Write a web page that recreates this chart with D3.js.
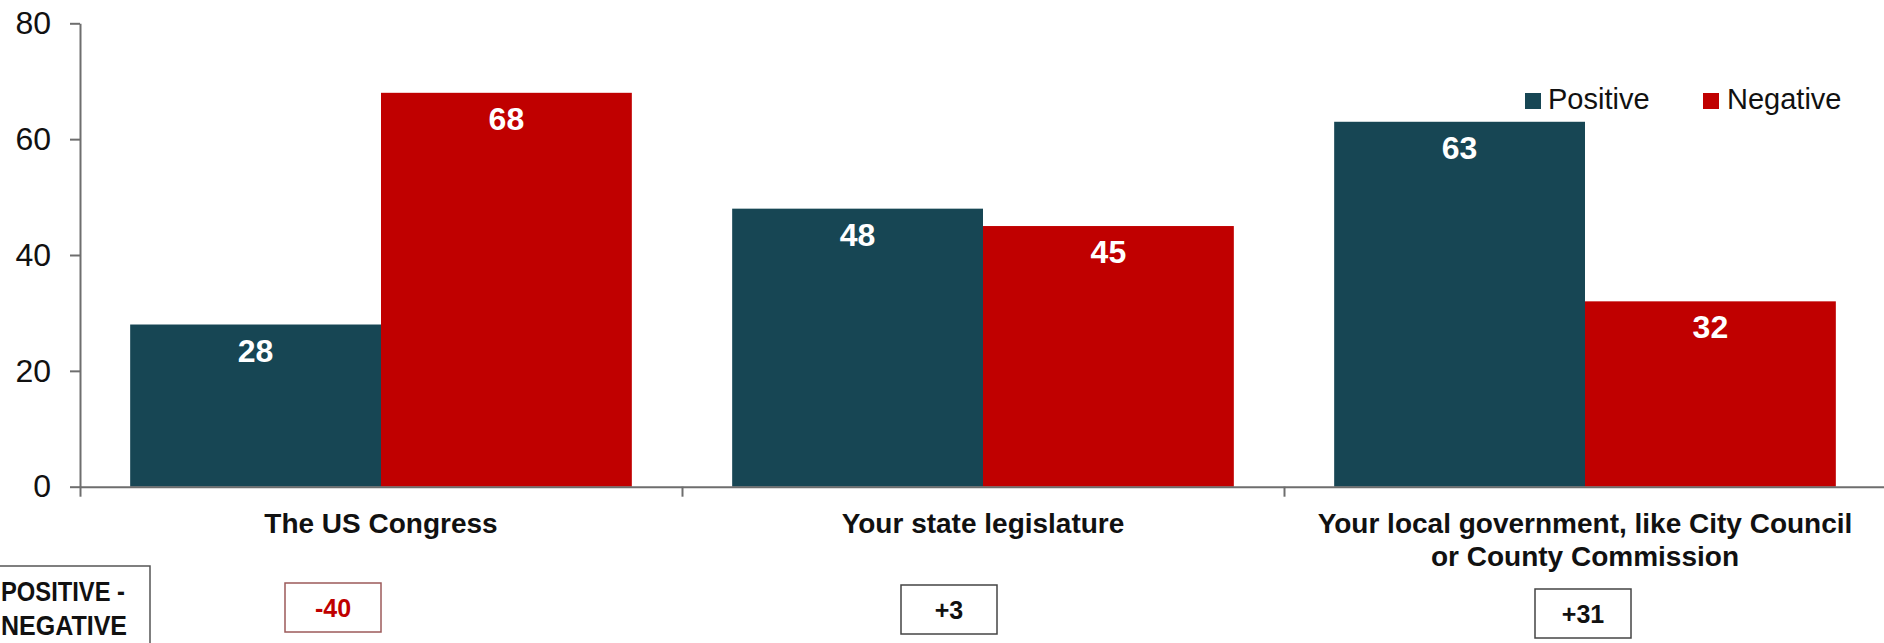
<!DOCTYPE html>
<html>
<head>
<meta charset="utf-8">
<script src="https://cdn.jsdelivr.net/npm/d3@7"></script>
<style>
  html, body { margin: 0; padding: 0; background: #fff; }
  svg { display: block; font-family: "Liberation Sans", Arial, sans-serif; }
</style>
</head>
<body>
<svg id="chart" width="1884" height="643"></svg>
<script>
// Ratings of government bodies: positive vs negative
const categories = ["The US Congress", "Your state legislature", "Your local government, like City Council or County Commission"];
const categoryLines = [
  ["The US Congress"],
  ["Your state legislature"],
  ["Your local government, like City Council", "or County Commission"]
];
const seriesNames = ["Positive", "Negative"];
const positive = [28, 48, 63];
const negative = [68, 45, 32];
const yTicks = [0, 20, 40, 60, 80];

const colors = { Positive: "#174654", Negative: "#c00000" };

// layout
const plotLeft = 80, plotRight = 1886, plotTop = 23.3, plotBottom = 486.7;
const netBoxOffset = [-48, -34, -2];   // shift of each net box from its category centre
const netBoxTop = [583, 585, 589];

const svg = d3.select("#chart");

const y = d3.scaleLinear().domain([0, 80]).range([plotBottom, plotTop]);
const x0 = d3.scaleBand().domain(categories).range([plotLeft, plotRight])
  .paddingInner(1 / 6).paddingOuter(1 / 12);
const x1 = d3.scaleBand().domain(seriesNames).range([0, x0.bandwidth()]);
const xEdge = d3.scaleLinear().domain([0, categories.length]).range([plotLeft, plotRight]);

const rows = categories.map((c, i) => ({ cat: c, Positive: positive[i], Negative: negative[i] }));

// bars
const groups = svg.append("g").selectAll("g").data(rows).join("g")
  .attr("transform", d => `translate(${x0(d.cat)},0)`);

groups.selectAll("rect")
  .data(d => seriesNames.map(s => ({ s, v: d[s] })))
  .join("rect")
  .attr("x", d => x1(d.s))
  .attr("y", d => y(d.v))
  .attr("width", x1.bandwidth())
  .attr("height", d => y(0) - y(d.v))
  .attr("fill", d => colors[d.s]);

groups.selectAll("text.val")
  .data(d => seriesNames.map(s => ({ s, v: d[s] })))
  .join("text")
  .attr("class", "val")
  .attr("x", d => x1(d.s) + x1.bandwidth() / 2)
  .attr("y", d => y(d.v) + 37)
  .attr("text-anchor", "middle")
  .attr("fill", "#fff")
  .attr("font-weight", "bold")
  .attr("font-size", 32)
  .text(d => d.v);

// y axis
const yAxis = svg.append("g")
  .attr("transform", `translate(${plotLeft},0)`)
  .call(d3.axisLeft(y).tickValues(yTicks).tickSize(10).tickSizeOuter(0).tickPadding(19));
yAxis.select(".domain").attr("stroke", "#6e6e6e").attr("stroke-width", 2);
yAxis.selectAll(".tick line").attr("stroke", "#6e6e6e").attr("stroke-width", 2);
yAxis.selectAll(".tick text")
  .attr("font-size", 32)
  .attr("font-family", "Liberation Sans, Arial, sans-serif")
  .attr("fill", "#111");

// x axis with boundary ticks between categories
const xAxis = svg.append("g")
  .attr("transform", `translate(0,${plotBottom})`)
  .call(d3.axisBottom(xEdge).tickValues(d3.range(categories.length + 1)).tickSize(10).tickSizeOuter(0).tickFormat(""));
xAxis.select(".domain").attr("stroke", "#6e6e6e").attr("stroke-width", 2);
xAxis.selectAll(".tick line").attr("stroke", "#6e6e6e").attr("stroke-width", 2);

// category labels
const labelG = svg.append("g");
categories.forEach((c, i) => {
  const cx = x0(c) + x0.bandwidth() / 2;
  const t = labelG.append("text")
    .attr("text-anchor", "middle")
    .attr("font-weight", "bold")
    .attr("font-size", 28)
    .attr("fill", "#111");
  categoryLines[i].forEach((line, j) => {
    t.append("tspan").attr("x", cx).attr("y", 533 + j * 33).text(line);
  });
});

// legend
const legend = svg.append("g");
const legendItems = [
  { s: "Positive", sx: 1525, tx: 1548 },
  { s: "Negative", sx: 1703, tx: 1727 }
];
legendItems.forEach(it => {
  legend.append("rect").attr("x", it.sx).attr("y", 93).attr("width", 16).attr("height", 16)
    .attr("fill", colors[it.s]);
  legend.append("text").attr("x", it.tx).attr("y", 109)
    .attr("font-size", 29).attr("fill", "#111").text(it.s);
});

// net score panel
const net = svg.append("g");
net.append("rect").attr("x", -20).attr("y", 566).attr("width", 170).attr("height", 100)
  .attr("fill", "none").attr("stroke", "#555").attr("stroke-width", 1.5);
net.append("text").attr("x", 1).attr("y", 601)
  .attr("textLength", 124).attr("lengthAdjust", "spacingAndGlyphs")
  .attr("font-weight", "bold").attr("font-size", 27).attr("fill", "#111").text("POSITIVE -");
net.append("text").attr("x", 1).attr("y", 635)
  .attr("textLength", 126).attr("lengthAdjust", "spacingAndGlyphs")
  .attr("font-weight", "bold").attr("font-size", 27).attr("fill", "#111").text("NEGATIVE");

categories.forEach((c, i) => {
  const diff = positive[i] - negative[i];
  const label = diff > 0 ? "+" + diff : String(diff);
  const cx = x0(c) + x0.bandwidth() / 2 + netBoxOffset[i];
  const top = netBoxTop[i];
  const neg = diff < 0;
  net.append("rect").attr("x", cx - 48).attr("y", top).attr("width", 96).attr("height", 49)
    .attr("fill", "#fff").attr("stroke", neg ? "#9c5a5a" : "#444").attr("stroke-width", 1.5);
  net.append("text").attr("x", cx).attr("y", top + 34).attr("text-anchor", "middle")
    .attr("font-weight", "bold").attr("font-size", 25)
    .attr("fill", neg ? "#c00000" : "#111").text(label);
});
</script>
</body>
</html>
